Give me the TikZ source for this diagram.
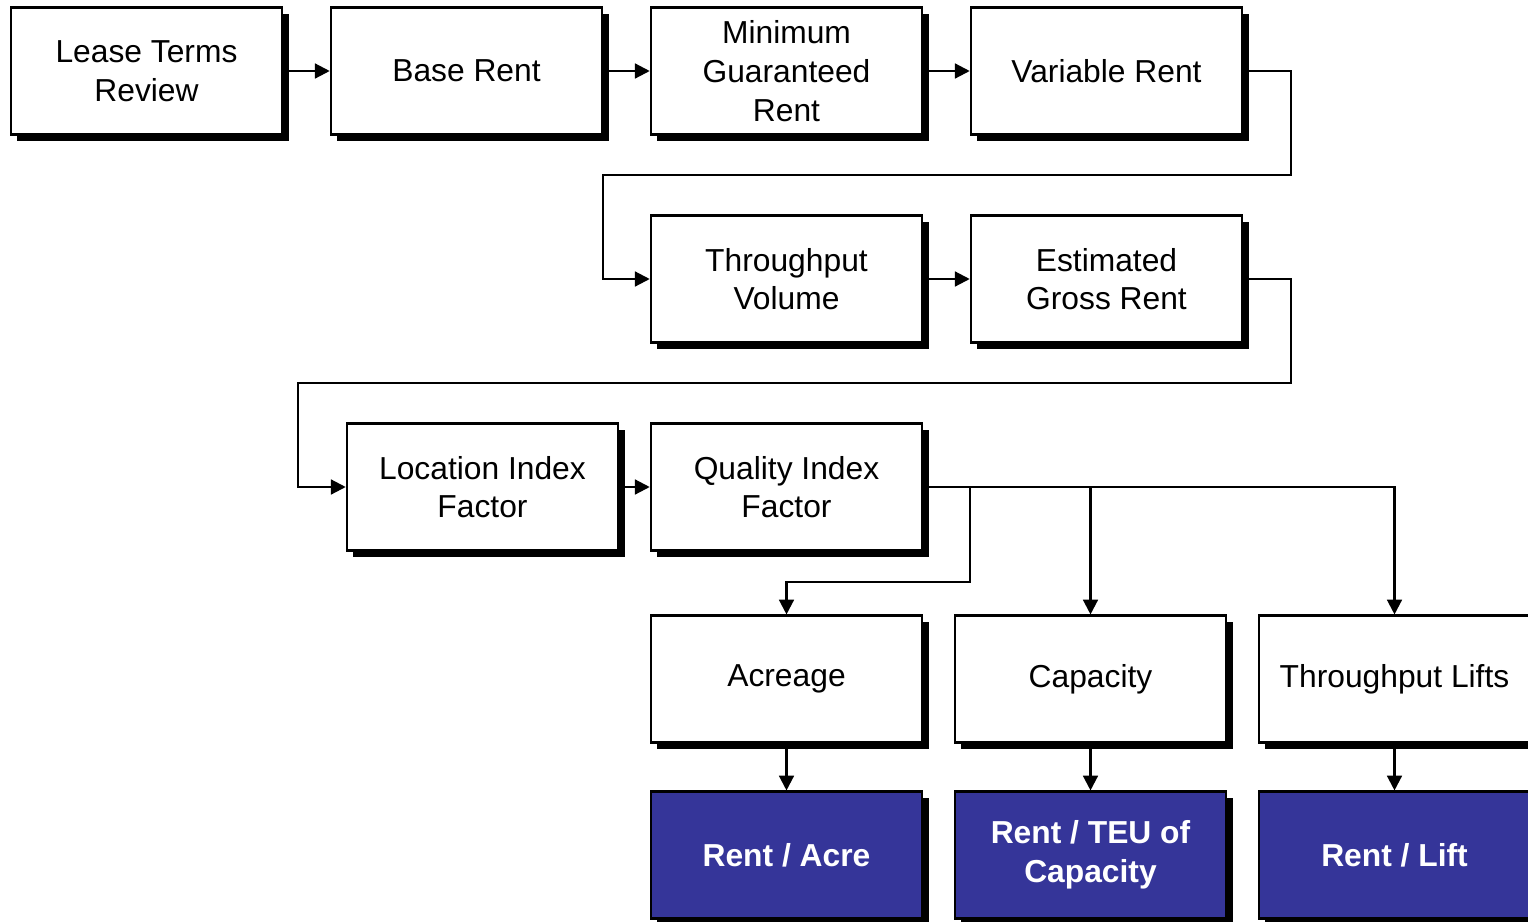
\documentclass[tikz,border=0pt]{standalone}
\usepackage{fontspec}
\setmainfont{Liberation Sans}
\usetikzlibrary{shadows,arrows.meta}
\definecolor{boxblue}{HTML}{353599}
\tikzset{
  box/.style={draw=black, line width=1.6pt, fill=white, rectangle, inner sep=0pt,
    minimum width=6.78cm, minimum height=3.17cm, align=center,
    font=\fontsize{22.6}{27.5}\selectfont,
    general shadow={fill=black, shadow xshift=0.16cm, shadow yshift=-0.16cm}},
  bluebox/.style={box, fill=boxblue, text=white, font=\fontsize{22.6}{27.5}\selectfont\bfseries},
  arr/.style={draw=black, line width=1.6pt, -{Triangle[length=0.37cm,width=0.37cm]}},
  ln/.style={draw=black, line width=1.6pt}
}
\begin{document}
\begin{tikzpicture}[x=0.025cm,y=-0.025cm]
\useasboundingbox (0,0) rectangle (1528,922);
\clip (0,0) rectangle (1528,922);
% row 1
\node[box] (ltr) at (146.5,71) {Lease Terms\\Review};
\node[box] (br) at (466.5,71) {Base Rent};
\node[box] (mgr) at (786.5,71) {Minimum\\Guaranteed\\Rent};
\node[box] (vr) at (1106.5,71) {Variable Rent};
% row 2
\node[box] (tv) at (786.5,279) {Throughput\\Volume};
\node[box] (egr) at (1106.5,279) {Estimated\\Gross Rent};
% row 3
\node[box] (lif) at (482.5,487) {Location Index\\Factor};
\node[box] (qif) at (786.5,487) {Quality Index\\Factor};
% row 4
\node[box] (acr) at (786.5,679) {Acreage};
\node[box] (cap) at (1090.5,679) {Capacity};
\node[box] (tl) at (1394.5,679) {Throughput Lifts};
% row 5
\node[bluebox] (rpa) at (786.5,855) {Rent / Acre};
\node[bluebox] (rpt) at (1090.5,855) {Rent / TEU of\\Capacity};
\node[bluebox] (rpl) at (1394.5,855) {Rent / Lift};
% connectors
\coordinate (c1) at (1291,175);
\coordinate (c2) at (603,175);
\coordinate (c3) at (1291,383);
\coordinate (c4) at (298,383);
\coordinate (b1) at (970,487);
\coordinate (b2) at (970,582);
\coordinate (b3) at (1090.5,487);
\draw[arr] (ltr.east) -- (br.west);
\draw[arr] (br.east) -- (mgr.west);
\draw[arr] (mgr.east) -- (vr.west);
\draw[arr] (vr.east) -| (c1) -- (c2) |- (tv.west);
\draw[arr] (tv.east) -- (egr.west);
\draw[arr] (egr.east) -| (c3) -- (c4) |- (lif.west);
\draw[arr] (lif.east) -- (qif.west);
\draw[arr] (qif.east) -| (tl.north);
\draw[arr] (b3) -- (cap.north);
\draw[arr] (b1) -- (b2) -| (acr.north);
\draw[arr] (acr.south) -- (rpa.north);
\draw[arr] (cap.south) -- (rpt.north);
\draw[arr] (tl.south) -- (rpl.north);
\end{tikzpicture}
\end{document}
